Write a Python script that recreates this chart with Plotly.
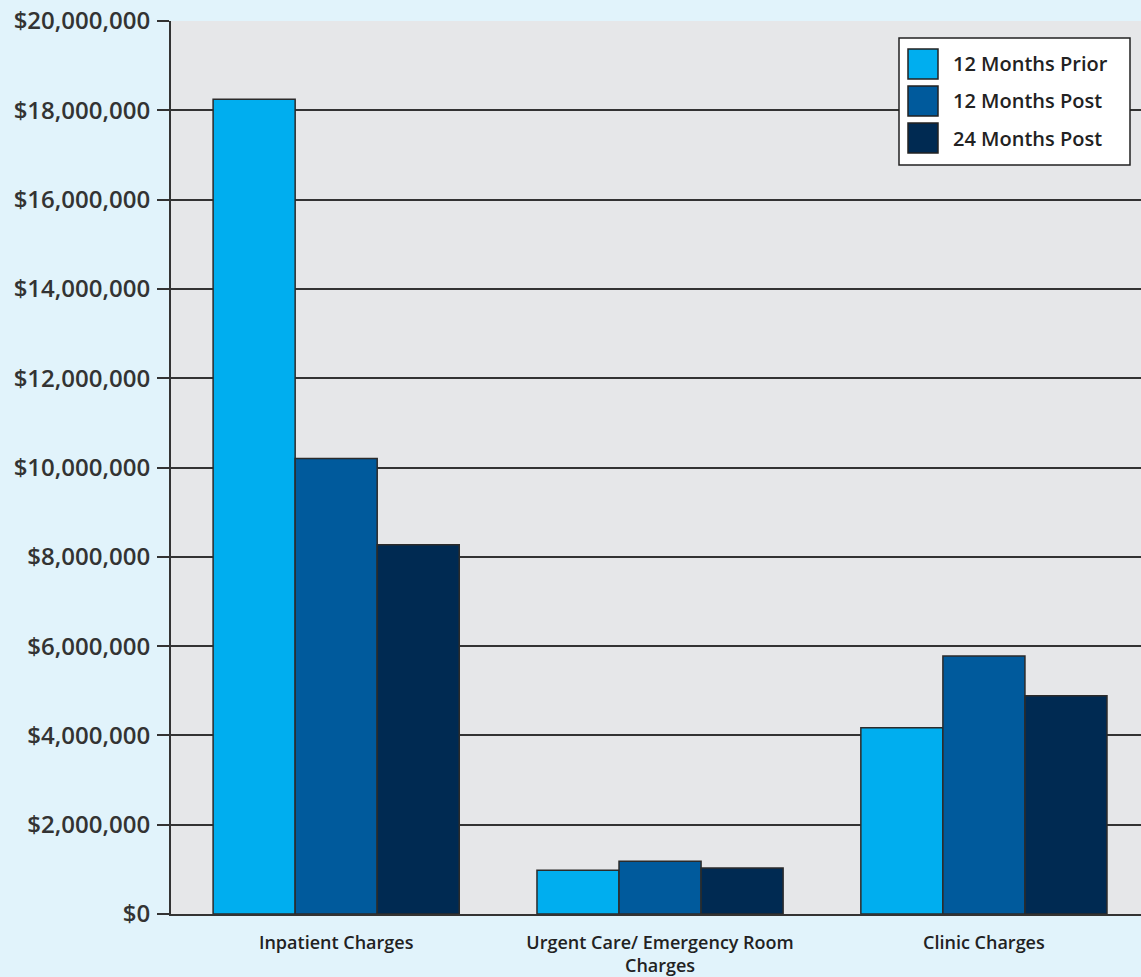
import plotly.graph_objects as go

categories = ["Inpatient Charges", "Urgent Care/ Emergency Room<br>Charges", "Clinic Charges"]
series_names = ["12 Months Prior", "12 Months Post", "24 Months Post"]
prior_12 = [18250000, 980000, 4170000]
post_12 = [10200000, 1180000, 5780000]
post_24 = [8270000, 1030000, 4890000]
series_values = [prior_12, post_12, post_24]
colors = ["#00AEEF", "#005A9C", "#002A52"]

y_ticks = list(range(0, 20000001, 2000000))

fig = go.Figure()
for name, vals, col in zip(series_names, series_values, colors):
    fig.add_trace(go.Bar(
        x=categories, y=vals, name=name,
        marker=dict(color=col, line=dict(color="#2b2b2b", width=1.5)),
        showlegend=False,
    ))

font_family = "Open Sans, DejaVu Sans, sans-serif"

# plot-area geometry in pixels (for placing the legend box in paper coords)
L, R, T, B = 171, 0, 21, 63
W, H = 1141, 977
pw, ph = W - L - R, H - T - B


def px_x(px):
    return (px - L) / pw


def px_y(py):
    return (H - B - py) / ph


# custom legend (box + swatches + labels)
shapes = [dict(type="rect", xref="paper", yref="paper",
               x0=px_x(899), x1=px_x(1130), y0=px_y(165), y1=px_y(38),
               fillcolor="white", line=dict(color="#222222", width=1.5), layer="above")]
annotations = []
row_tops = [49, 86, 123]
for name, col, top in zip(series_names, colors, row_tops):
    shapes.append(dict(type="rect", xref="paper", yref="paper",
                       x0=px_x(908), x1=px_x(938), y0=px_y(top + 30), y1=px_y(top),
                       fillcolor=col, line=dict(color="#222222", width=1.5), layer="above"))
    annotations.append(dict(xref="paper", yref="paper", x=px_x(951), y=px_y(top + 15),
                            xanchor="left", yanchor="middle", text=name, showarrow=False,
                            font=dict(size=20, family=font_family, color="#222222", weight=600)))

fig.update_layout(
    width=W, height=H,
    margin=dict(l=L, r=R, t=T, b=B),
    paper_bgcolor="#E1F3FB",
    plot_bgcolor="#E6E7E9",
    barmode="group",
    bargap=0.24,
    bargroupgap=0,
    font=dict(family=font_family, color="#333333"),
    showlegend=False,
    shapes=shapes,
    annotations=annotations,
)
fig.update_xaxes(
    range=[-0.51, 2.485],
    automargin=False,
    showline=True, linecolor="#333333", linewidth=2,
    ticks="", showgrid=False,
    tickfont=dict(size=18, family=font_family, color="#222222", weight=600),
    ticklabelstandoff=11,
)
fig.update_yaxes(
    range=[0, 20000000],
    automargin=False,
    tickvals=y_ticks,
    tickformat="$,.0f",
    showline=True, linecolor="#333333", linewidth=2,
    ticks="outside", ticklen=12, tickwidth=2, tickcolor="#333333",
    showgrid=True, gridcolor="#333333", gridwidth=2,
    zeroline=False,
    tickfont=dict(size=24, family=font_family, color="#333333", weight=600),
    ticklabelstandoff=2,
)

fig.write_html("out.html")
